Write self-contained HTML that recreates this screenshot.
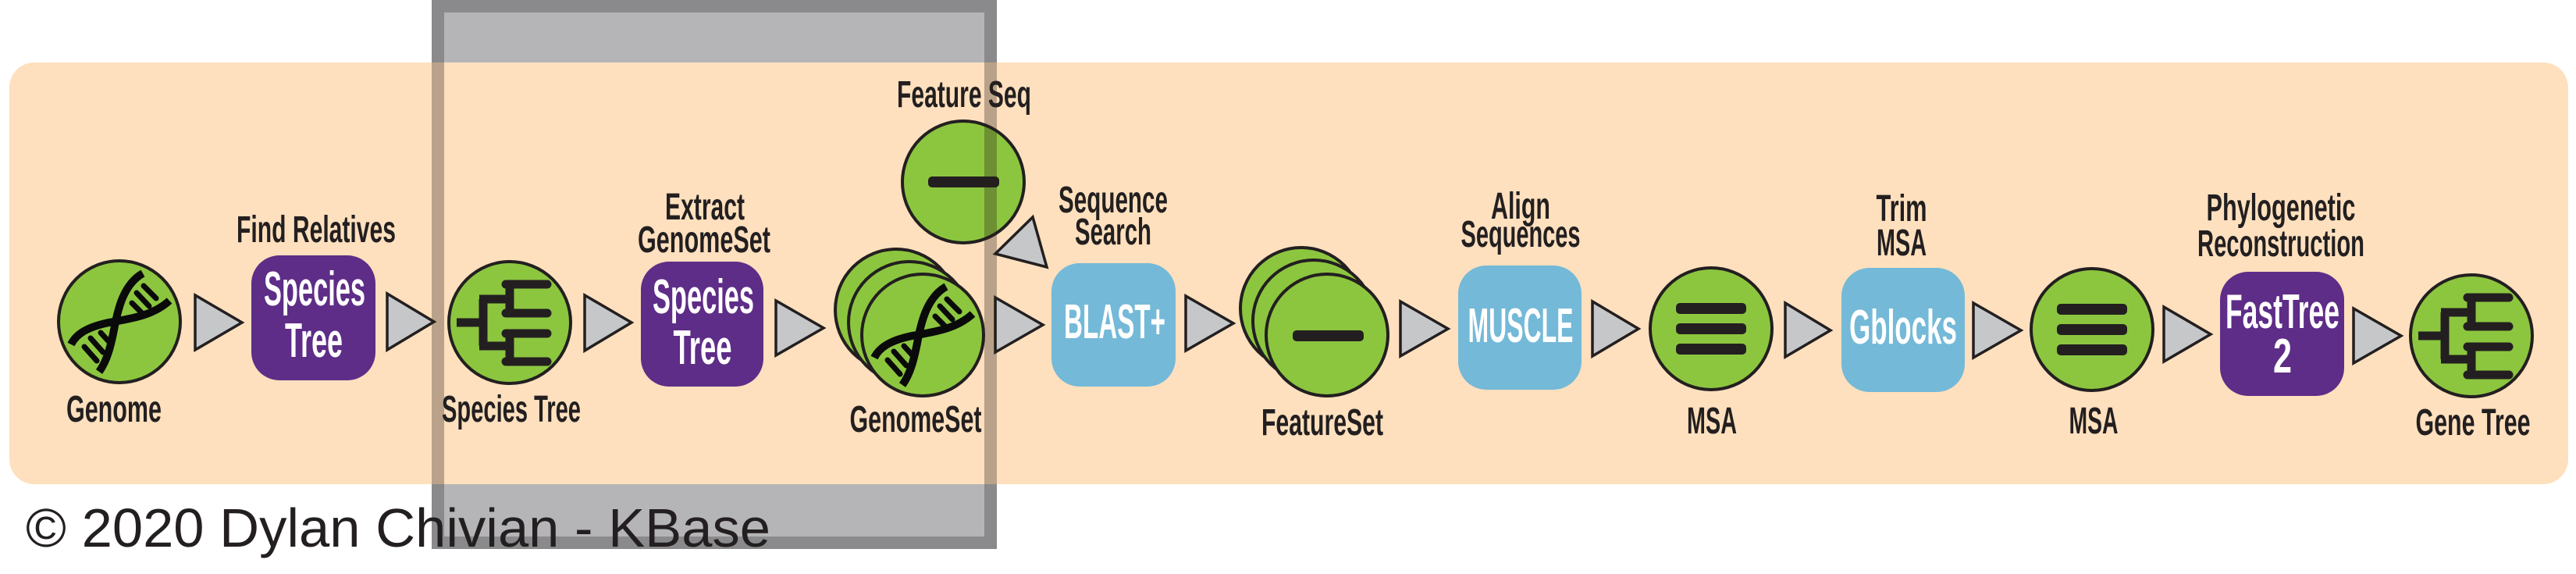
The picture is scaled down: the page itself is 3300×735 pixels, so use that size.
<!DOCTYPE html>
<html><head><meta charset="utf-8"><style>
html,body{margin:0;padding:0;background:#fff;}
svg{display:block;}
.lb{font-family:"Liberation Sans Narrow","Liberation Sans",sans-serif;font-weight:bold;font-size:48px;fill:#231f20;}
.bx{font-family:"Liberation Sans Narrow","Liberation Sans",sans-serif;font-weight:bold;font-size:62px;fill:#fff;}
</style></head><body>
<svg width="3300" height="735" viewBox="0 0 3300 735" xmlns="http://www.w3.org/2000/svg">
<defs>
<clipPath id="pc"><rect x="12" y="80" width="3278" height="540" rx="32"/></clipPath>
</defs>
<rect x="553" y="0" width="724" height="703" fill="#b5b5b7"/>
<rect x="561" y="8" width="708" height="687" fill="none" stroke="#8a8a8c" stroke-width="16"/>
<rect x="12" y="80" width="3278" height="540" rx="32" fill="#fee0be"/>

<g fill="#c6c7c9" stroke="#231f20" stroke-width="3.5" stroke-linejoin="miter">
<polygon points="250,378 310,413 250,448"/>
<polygon points="496,376 556,412 496,448"/>
<polygon points="749,378 809,413 749,449"/>
<polygon points="994,385 1055,420 994,455"/>
<polygon points="1275,381 1336,416 1275,451"/>
<polygon points="1519,379 1580,414 1519,449"/>
<polygon points="1794,386 1855,421 1794,456"/>
<polygon points="2040,386 2099,421 2040,456"/>
<polygon points="2287,388 2345,423 2287,457"/>
<polygon points="2528,388 2589,423 2528,458"/>
<polygon points="2772,393 2832,428 2772,463"/>
<polygon points="3015,395 3076,430 3015,465"/>
<polygon points="1275,325 1323,278 1341,342"/>
</g>

<rect x="322" y="327" width="159" height="160" rx="36" fill="#5e2d87"/>
<rect x="821" y="335" width="157" height="160" rx="36" fill="#5e2d87"/>
<rect x="1347" y="337" width="159" height="158" rx="36" fill="#74b9d8"/>
<rect x="1868" y="340" width="158" height="159" rx="36" fill="#74b9d8"/>
<rect x="2359" y="343" width="158" height="159" rx="36" fill="#74b9d8"/>
<rect x="2844" y="348" width="159" height="159" rx="36" fill="#5e2d87"/>
<text class="bx" x="403" y="391" text-anchor="middle" textLength="130" lengthAdjust="spacingAndGlyphs">Species</text>
<text class="bx" x="402" y="457" text-anchor="middle" textLength="74" lengthAdjust="spacingAndGlyphs">Tree</text>
<text class="bx" x="901" y="401" text-anchor="middle" textLength="130" lengthAdjust="spacingAndGlyphs">Species</text>
<text class="bx" x="900" y="466" text-anchor="middle" textLength="75" lengthAdjust="spacingAndGlyphs">Tree</text>
<text class="bx" x="1428" y="433" text-anchor="middle" textLength="130" lengthAdjust="spacingAndGlyphs" style="font-size:62px">BLAST+</text>
<text class="bx" x="1948" y="438" text-anchor="middle" textLength="135" lengthAdjust="spacingAndGlyphs" style="font-size:62px">MUSCLE</text>
<text class="bx" x="2438" y="440" text-anchor="middle" textLength="138" lengthAdjust="spacingAndGlyphs" style="font-size:62px">Gblocks</text>
<text class="bx" x="2924" y="420" text-anchor="middle" textLength="146" lengthAdjust="spacingAndGlyphs">FastTree</text>
<text class="bx" x="2924" y="477" text-anchor="middle" textLength="24" lengthAdjust="spacingAndGlyphs">2</text>

<g fill="#8cc63f" stroke="#231f20" stroke-width="4">
<circle cx="153" cy="412" r="78"/>
<circle cx="653" cy="413" r="78"/>
<circle cx="1148" cy="397" r="78"/>
<circle cx="1165" cy="413" r="78"/>
<circle cx="1182" cy="429" r="78"/>
<circle cx="1234" cy="233" r="78"/>
<circle cx="1667" cy="395" r="78"/>
<circle cx="1683" cy="411" r="78"/>
<circle cx="1700" cy="429" r="78"/>
<circle cx="2192" cy="421" r="78"/>
<circle cx="2680" cy="422" r="78"/>
<circle cx="3166" cy="430" r="78"/>
</g>

<g transform="translate(153,412)" stroke="#0a0a0a" fill="none" stroke-linecap="butt">
<path d="M30,-62 C5,-48 -2,-15 -6,5 C-11,32 -16,50 -26,64" stroke-width="10"/>
<path d="M64,-27 C40,-5 5,-3 -18,2 C-40,7 -55,15 -62,29" stroke-width="10"/>
<g stroke-width="7" stroke-linecap="round">
<line x1="31" y1="-46" x2="47" y2="-30"/><line x1="22" y1="-37" x2="38" y2="-20"/><line x1="16" y1="-24" x2="28" y2="-12"/>
<line x1="-24" y1="14" x2="-13" y2="26"/><line x1="-37" y1="21" x2="-21" y2="39"/><line x1="-45" y1="32" x2="-29" y2="50"/>
</g></g>
<g transform="translate(1182,429)" stroke="#0a0a0a" fill="none" stroke-linecap="butt">
<path d="M30,-62 C5,-48 -2,-15 -6,5 C-11,32 -16,50 -26,64" stroke-width="10"/>
<path d="M64,-27 C40,-5 5,-3 -18,2 C-40,7 -55,15 -62,29" stroke-width="10"/>
<g stroke-width="7" stroke-linecap="round">
<line x1="31" y1="-46" x2="47" y2="-30"/><line x1="22" y1="-37" x2="38" y2="-20"/><line x1="16" y1="-24" x2="28" y2="-12"/>
<line x1="-24" y1="14" x2="-13" y2="26"/><line x1="-37" y1="21" x2="-21" y2="39"/><line x1="-45" y1="32" x2="-29" y2="50"/>
</g></g>

<g transform="translate(653,413)" stroke="#231f20" stroke-width="11" fill="none" stroke-linejoin="miter">
<path d="M-68,0 H-34 M-34,-30 V30 M-39,-30 H0 M-39,30 H0 M0,-49 V-12 M0,14 V50"/>
<path d="M-5,-49 H48 M-5,-12 H48 M-5,14 H48 M-5,50 H48" stroke-linecap="round"/>
</g>
<g transform="translate(3166,430)" stroke="#231f20" stroke-width="11" fill="none" stroke-linejoin="miter">
<path d="M-68,0 H-34 M-34,-30 V30 M-39,-30 H0 M-39,30 H0 M0,-49 V-12 M0,14 V50"/>
<path d="M-5,-49 H48 M-5,-12 H48 M-5,14 H48 M-5,50 H48" stroke-linecap="round"/>
</g>

<rect x="1189" y="226" width="91" height="14" rx="5" fill="#231f20"/>
<rect x="1656" y="423" width="91" height="14" rx="5" fill="#231f20"/>
<g fill="#231f20">
<rect x="2147" y="388" width="90" height="14" rx="5"/><rect x="2147" y="414" width="90" height="14" rx="5"/><rect x="2147" y="440" width="90" height="14" rx="5"/>
<rect x="2635" y="389" width="90" height="14" rx="5"/><rect x="2635" y="415" width="90" height="14" rx="5"/><rect x="2635" y="441" width="90" height="14" rx="5"/>
</g>

<g class="lb" text-anchor="middle">
<text x="146" y="540" textLength="122" lengthAdjust="spacingAndGlyphs">Genome</text>
<text x="405" y="310" textLength="204" lengthAdjust="spacingAndGlyphs">Find Relatives</text>
<text x="655" y="540" textLength="178" lengthAdjust="spacingAndGlyphs">Species Tree</text>
<text x="903" y="281" textLength="102" lengthAdjust="spacingAndGlyphs">Extract</text>
<text x="902" y="323" textLength="170" lengthAdjust="spacingAndGlyphs">GenomeSet</text>
<text x="1173" y="553" textLength="169" lengthAdjust="spacingAndGlyphs">GenomeSet</text>
<text x="1235" y="137" textLength="172" lengthAdjust="spacingAndGlyphs">Feature Seq</text>
<text x="1426" y="272" textLength="140" lengthAdjust="spacingAndGlyphs">Sequence</text>
<text x="1426" y="313" textLength="98" lengthAdjust="spacingAndGlyphs">Search</text>
<text x="1694" y="557" textLength="156" lengthAdjust="spacingAndGlyphs">FeatureSet</text>
<text x="1948" y="280" textLength="76" lengthAdjust="spacingAndGlyphs">Align</text>
<text x="1948" y="316" textLength="153" lengthAdjust="spacingAndGlyphs">Sequences</text>
<text x="2193" y="555" textLength="64" lengthAdjust="spacingAndGlyphs">MSA</text>
<text x="2436" y="283" textLength="65" lengthAdjust="spacingAndGlyphs">Trim</text>
<text x="2436" y="327" textLength="64" lengthAdjust="spacingAndGlyphs">MSA</text>
<text x="2682" y="555" textLength="63" lengthAdjust="spacingAndGlyphs">MSA</text>
<text x="2922" y="282" textLength="191" lengthAdjust="spacingAndGlyphs">Phylogenetic</text>
<text x="2922" y="328" textLength="214" lengthAdjust="spacingAndGlyphs">Reconstruction</text>
<text x="3168" y="557" textLength="147" lengthAdjust="spacingAndGlyphs">Gene Tree</text>
</g>

<g clip-path="url(#pc)">
<rect x="561" y="8" width="708" height="687" fill="none" stroke="rgba(40,30,25,0.32)" stroke-width="16"/>
</g>

<text x="33" y="700" font-family="'Liberation Sans',sans-serif" font-size="70" fill="#231f20" textLength="954" lengthAdjust="spacingAndGlyphs">© 2020 Dylan Chivian - KBase</text>
</svg>
</body></html>
